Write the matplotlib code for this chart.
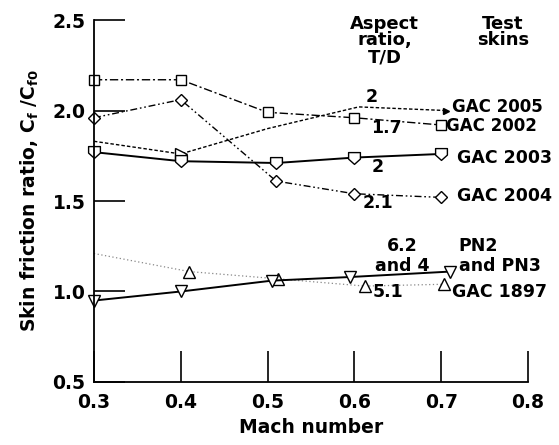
import matplotlib
matplotlib.use("Agg")
import matplotlib.pyplot as plt
from matplotlib.path import Path

plt.rcParams['font.family'] = ['DejaVu Sans']
plt.rcParams['font.weight'] = 'bold'
plt.rcParams['mathtext.default'] = 'regular'

# Data
gac2005_x = [0.3, 0.4, 0.5, 0.605, 0.705]
gac2005 = [1.83, 1.76, 1.90, 2.02, 2.00]
gac2002_x = [0.3, 0.4, 0.5, 0.6, 0.7]
gac2002 = [2.17, 2.17, 1.99, 1.96, 1.92]
gac2003_x = [0.3, 0.4, 0.51, 0.6, 0.7]
gac2003 = [1.77, 1.72, 1.71, 1.74, 1.76]
gac2004_x = [0.3, 0.4, 0.51, 0.6, 0.7]
gac2004 = [1.96, 2.06, 1.61, 1.54, 1.52]
gac1897_x = [0.3, 0.41, 0.512, 0.612, 0.703]
gac1897 = [1.21, 1.11, 1.07, 1.03, 1.04]
pn_x = [0.3, 0.4, 0.505, 0.595, 0.71]
pn = [0.95, 1.00, 1.06, 1.08, 1.11]

xticks = [0.3, 0.4, 0.5, 0.6, 0.7, 0.8]
yticks = [0.5, 1.0, 1.5, 2.0, 2.5]

pent = Path([(-1, 1), (1, 1), (1, -0.1), (0, -1), (-1, -0.1), (-1, 1)],
            [Path.MOVETO, Path.LINETO, Path.LINETO, Path.LINETO, Path.LINETO, Path.CLOSEPOLY])

fig = plt.figure(figsize=(5.59, 4.45), dpi=100)
ax = fig.add_axes([0.168, 0.1416, 0.7765, 0.8134])

mk = dict(mfc='white', mec='black', mew=1.0)
ax.plot(gac2002_x, gac2002, color='black', lw=1.0, ls=(0, (6, 2, 1.5, 2)), marker='s', ms=7.5, **mk)
ax.plot(gac2005_x, gac2005, color='black', lw=1.0, ls=(0, (2.5, 1.5)), marker='>', ms=8.5,
        markevery=[1], **mk)
ax.plot([gac2005_x[-1]], [gac2005[-1]], marker='>', ms=4, color='black', ls='none')
ax.plot(gac2004_x, gac2004, color='black', lw=1.0, ls=(0, (5, 2, 1.2, 2, 1.2, 2)), marker='D', ms=6.5, **mk)
ax.plot(gac2003_x, gac2003, color='black', lw=1.4, ls='-', marker=pent, ms=8.5, **mk)
ax.plot(gac1897_x, gac1897, color='#888888', lw=0.9, ls=(0, (1, 2)), marker='^', ms=8,
        markevery=[1, 2, 3, 4], mfc='white', mec='black', mew=1.0)
ax.plot(pn_x, pn, color='black', lw=1.4, ls='-', marker='v', ms=8.5, **mk)

ax.set_xlim(0.3, 0.8)
ax.set_ylim(0.5, 2.5)
ax.set_xticks(xticks)
ax.set_yticks(yticks)
ax.set_xticklabels([f"{v:.1f}" for v in xticks])
ax.set_yticklabels([f"{v:.1f}" for v in yticks])
ax.tick_params(direction='in', length=22, width=1.2, labelsize=13.5)
ax.tick_params(axis='x', pad=8)
ax.tick_params(axis='y', pad=6)
for s in ['top', 'right']:
    ax.spines[s].set_visible(False)
for s in ['left', 'bottom']:
    ax.spines[s].set_linewidth(1.3)
for ln in ax.lines:
    ln.set_clip_on(False)

ax.set_xlabel("Mach number", fontsize=13.5, fontweight='bold', labelpad=4)
ax.set_ylabel(r"Skin friction ratio, C$_f$ /C$_{f0}$", fontsize=13.5, fontweight='bold', labelpad=8)

fs = 12.5
# headers
ax.text(0.635, 2.53, "Aspect\nratio,\nT/D", ha='center', va='top', fontsize=13, linespacing=0.92)
ax.text(0.771, 2.53, "Test\nskins", ha='center', va='top', fontsize=13, linespacing=0.92)
# right labels
ax.text(0.713, 2.022, "GAC 2005", ha='left', va='center', fontsize=12)
ax.text(0.706, 1.915, "GAC 2002", ha='left', va='center', fontsize=12)
ax.text(0.718, 1.74, "GAC 2003", ha='left', va='center', fontsize=fs)
ax.text(0.718, 1.53, "GAC 2004", ha='left', va='center', fontsize=fs)
ax.text(0.72, 1.195, "PN2\nand PN3", ha='left', va='center', fontsize=fs, linespacing=1.15)
ax.text(0.713, 0.997, "GAC 1897", ha='left', va='center', fontsize=fs)
# aspect ratio labels
ax.text(0.62, 2.075, "2", ha='center', va='center', fontsize=fs)
ax.text(0.637, 1.905, "1.7", ha='center', va='center', fontsize=fs)
ax.text(0.627, 1.69, "2", ha='center', va='center', fontsize=fs)
ax.text(0.627, 1.49, "2.1", ha='center', va='center', fontsize=fs)
ax.text(0.655, 1.196, "6.2\nand 4", ha='center', va='center', fontsize=fs, linespacing=1.15)
ax.text(0.639, 0.995, "5.1", ha='center', va='center', fontsize=fs)

fig.savefig("out.png", dpi=100)
